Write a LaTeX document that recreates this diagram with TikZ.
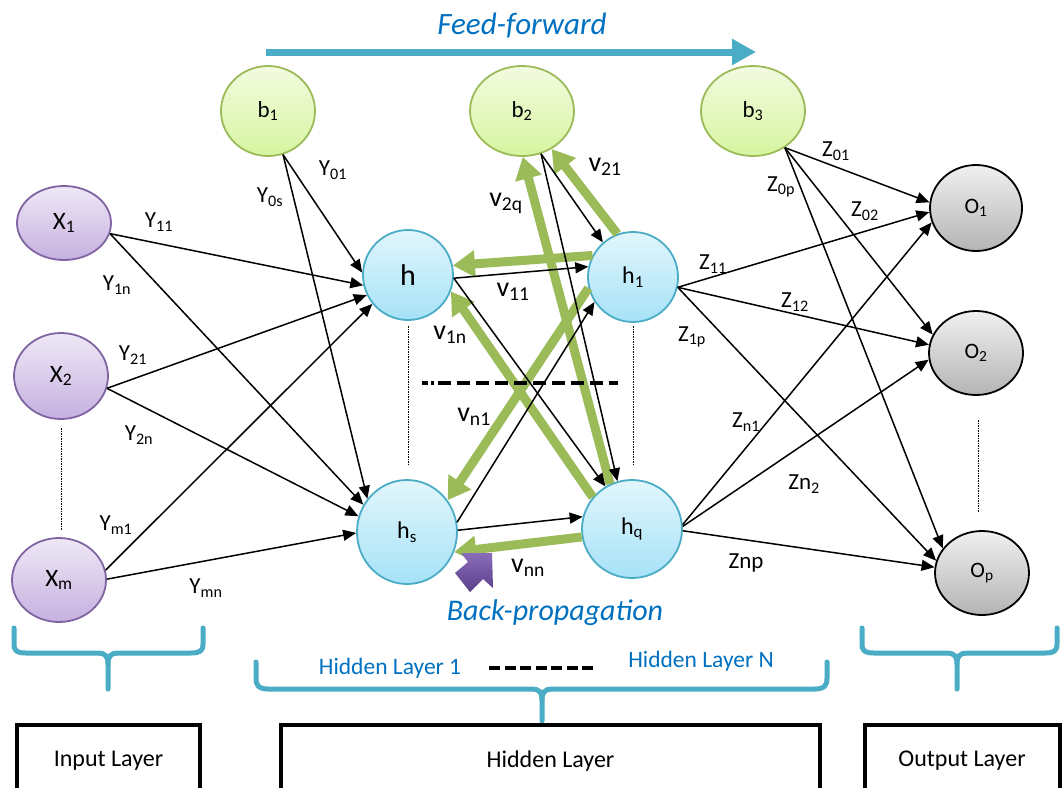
\documentclass[tikz,border=0pt]{standalone}
\usepackage{fontspec}
\setmainfont{Carlito}
\usetikzlibrary{shapes.geometric,arrows.meta}
\definecolor{inpLine}{HTML}{8064A2}
\definecolor{inpTop}{HTML}{EEE8F6}
\definecolor{inpBot}{HTML}{C6B0E0}
\definecolor{biasLine}{HTML}{9BBB59}
\definecolor{biasTop}{HTML}{F3FBE0}
\definecolor{biasBot}{HTML}{D6F5A0}
\definecolor{hidLine}{HTML}{4BACC6}
\definecolor{hidTop}{HTML}{E2F6FC}
\definecolor{hidBot}{HTML}{A6E2F7}
\definecolor{outTop}{HTML}{F0F0F0}
\definecolor{outBot}{HTML}{B4B4B4}
\definecolor{backGreen}{HTML}{9BBB59}
\definecolor{teal}{HTML}{4BACC6}
\definecolor{textBlue}{HTML}{0070C0}
\definecolor{purpleTop}{HTML}{8A6BB8}
\definecolor{purpleBot}{HTML}{5A3F8A}
\begin{document}
\begin{tikzpicture}[x=1pt,y=-1pt,
  neuron/.style={ellipse, inner sep=0pt, line width=1.8pt},
  inpnode/.style={neuron, draw=inpLine, top color=inpTop, bottom color=inpBot, font=\fontsize{25}{28}\selectfont},
  biasnode/.style={neuron, draw=biasLine, top color=biasTop, bottom color=biasBot, font=\fontsize{23}{26}\selectfont},
  hidnode/.style={neuron, draw=hidLine, top color=hidTop, bottom color=hidBot, font=\fontsize{24}{27}\selectfont},
  outnode/.style={neuron, draw=black, top color=outTop, bottom color=outBot, font=\fontsize{22}{25}\selectfont},
  fwd/.style={draw=black, line width=1.5pt, -{Triangle[length=13pt,width=11pt]}},
  bwd/.style={draw=backGreen, line width=9pt, -{Triangle[length=22pt,width=26pt]}},
  wlabel/.style={inner sep=0pt, font=\fontsize{23}{26}\selectfont},
  vlabel/.style={inner sep=0pt, font=\fontsize{28}{30}\selectfont},
  dotline/.style={draw=black, line width=0.8pt, dash pattern=on 1.5pt off 1pt},
  bracepath/.style={draw=teal, line width=5pt, line cap=round, line join=round},
  layerbox/.style={draw=black, line width=4pt, fill=white, inner sep=0pt, font=\fontsize{24}{27}\selectfont},
  bluetext/.style={inner sep=0pt, text=textBlue},
]
\useasboundingbox (0,0) rectangle (1062,787);
\clip (0,0) rectangle (1062,787);

% ---------- neurons ----------
\node[inpnode, minimum width=94pt, minimum height=74pt] (X1) at (64,223) {X\textsubscript{1}};
\node[inpnode, minimum width=94pt, minimum height=86pt] (X2) at (61,376) {X\textsubscript{2}};
\node[inpnode, minimum width=94pt, minimum height=84pt] (Xm) at (59,580) {X\textsubscript{m}};
\node[biasnode, minimum width=94pt, minimum height=90pt] (b1) at (268,111) {b\textsubscript{1}};
\node[biasnode, minimum width=104pt, minimum height=90pt] (b2) at (522,111) {b\textsubscript{2}};
\node[biasnode, minimum width=104pt, minimum height=90pt] (b3) at (753,111) {b\textsubscript{3}};
\node[hidnode, minimum width=90pt, minimum height=90pt, font=\fontsize{30}{32}\selectfont] (h) at (408,275) {h};
\node[hidnode, minimum width=90pt, minimum height=90pt] (h1) at (633,277) {h\textsubscript{1}};
\node[hidnode, minimum width=100pt, minimum height=104pt] (hs) at (407,532) {h\textsubscript{s}};
\node[hidnode, minimum width=100pt, minimum height=98pt] (hq) at (632,529) {h\textsubscript{q}};
\node[outnode, minimum width=92pt, minimum height=86pt] (O1) at (976,208) {O\textsubscript{1}};
\node[outnode, minimum width=94pt, minimum height=84pt] (O2) at (976,353) {O\textsubscript{2}};
\node[outnode, minimum width=94pt, minimum height=84pt] (Op) at (982,573) {O\textsubscript{p}};

% ---------- back-propagation (thick green) ----------
\draw[bwd] (h1.152) -- (h.12);
\draw[bwd] (hq.116) -- (b2.-89);
\draw[bwd] (h1.110) -- (b2.-52);
\draw[bwd] (hq.141) -- (h.-21);
\draw[bwd] (h1.194) -- (hs.38);
\draw[bwd] (hq.189) -- (hs.-23);

% ---------- input -> first hidden layer ----------
\draw[fwd] (b1.-71) -- (h.177);
\draw[fwd] (X1.-13) -- (h.193);
\draw[fwd] (X2.-15) -- (h.206);
\draw[fwd] (Xm.12) -- (h.219);
\draw[fwd] (b1.-71) -- (hs.140);
\draw[fwd] (X1.-13) -- (hs.148);
\draw[fwd] (X2.-15) -- (hs.162);
\draw[fwd] (Xm.1) -- (hs.181);

% ---------- hidden -> hidden ----------
\draw[fwd] (h.-4) -- (h1.167);
\draw[fwd] (h.-4) -- (hq.122);
\draw[fwd] (hs.11) -- (h1.213);
\draw[fwd] (hs.2) -- (hq.166);
\draw[fwd] (b2.-66) -- (h1.131);
\draw[fwd] (b2.-66) -- (hq.107);

% ---------- hidden -> output ----------
\draw[fwd] (b3.-49) -- (O1.173);
\draw[fwd] (b3.-49) -- (O2.157);
\draw[fwd] (b3.-49) -- (Op.148);
\draw[fwd] (h1.-13) -- (O1.185);
\draw[fwd] (h1.-13) -- (O2.170);
\draw[fwd] (h1.-13) -- (Op.165);
\draw[fwd] (hq.5) -- (O1.198);
\draw[fwd] (hq.3) -- (O2.188);
\draw[fwd] (hq.-2) -- (Op.173);

% ---------- ellipsis marks ----------
\coordinate (dotX1) at (61,428);  \coordinate (dotX2) at (61,530);
\coordinate (dotH1) at (408,326); \coordinate (dotH2) at (408,466);
\coordinate (dotQ1) at (633,326); \coordinate (dotQ2) at (633,466);
\coordinate (dotO1) at (978,420); \coordinate (dotO2) at (978,512);
\draw[dotline] (dotX1) -- (dotX2);
\draw[dotline] (dotH1) -- (dotH2);
\draw[dotline] (dotQ1) -- (dotQ2);
\draw[dotline] (dotO1) -- (dotO2);
\coordinate (midA) at (422,383); \coordinate (midB) at (618,383);
\draw[black, line width=3.5pt, dash pattern=on 6pt off 3pt on 3pt off 4pt on 13pt off 6pt on 13pt off 6pt on 13pt off 6pt on 13pt off 6pt on 13pt off 6pt on 13pt off 6pt on 13pt off 6pt on 13pt off 6pt on 13pt off 6pt on 13pt off 6pt] (midA) -- (midB);

% ---------- weight labels ----------
\node[wlabel] (lY01) at (333,170) {Y\textsubscript{01}};
\node[wlabel] (lY0s) at (270,197) {Y\textsubscript{0s}};
\node[wlabel] (lY11) at (159,222) {Y\textsubscript{11}};
\node[wlabel] (lY1n) at (117,285) {Y\textsubscript{1n}};
\node[wlabel] (lY21) at (133,355) {Y\textsubscript{21}};
\node[wlabel] (lY2n) at (139,435) {Y\textsubscript{2n}};
\node[wlabel] (lYm1) at (116,525) {Y\textsubscript{m1}};
\node[wlabel] (lYmn) at (206,588) {Y\textsubscript{mn}};
\node[vlabel] (lv2q) at (506,203) {v\textsubscript{2q}};
\node[vlabel] (lv21) at (605,167) {v\textsubscript{21}};
\node[vlabel] (lv11) at (513,292) {v\textsubscript{11}};
\node[vlabel] (lv1n) at (450,335) {v\textsubscript{1n}};
\node[vlabel] (lvn1) at (474,417) {v\textsubscript{n1}};
\node[vlabel] (lvnn) at (528,568) {v\textsubscript{nn}};
\node[wlabel] (lZ01) at (836,151) {Z\textsubscript{01}};
\node[wlabel] (lZ0p) at (781,187) {Z\textsubscript{0p}};
\node[wlabel] (lZ02) at (865,211) {Z\textsubscript{02}};
\node[wlabel] (lZ11) at (713,264) {Z\textsubscript{11}};
\node[wlabel] (lZ12) at (795,302) {Z\textsubscript{12}};
\node[wlabel] (lZ1p) at (692,337) {Z\textsubscript{1p}};
\node[wlabel] (lZn1) at (746,422) {Z\textsubscript{n1}};
\node[wlabel] (lZn2) at (804,484) {Zn\textsubscript{2}};
\node[wlabel] (lZnp) at (746,563) {Znp};

% ---------- direction captions ----------
\coordinate (ffStart) at (266,52);
\coordinate (ffEnd) at (756,52);
\draw[teal, line width=7pt, -{Triangle[length=24pt,width=25pt]}] (ffStart) -- (ffEnd);
\node[bluetext, font=\fontsize{31}{34}\selectfont\itshape] (ffText) at (522,26) {Feed-forward};
\node[bluetext, font=\fontsize{30}{34}\selectfont\itshape] (bpText) at (555,613) {Back-propagation};

% purple block arrow pointing up-right
\shade[top color=purpleTop, bottom color=purpleBot]
  (492,553) -- (493,588) -- (483,579) -- (470,592) -- (455,573) -- (468,562) -- (461,553) -- cycle;

% ---------- layer braces ----------
\draw[bracepath] (14,628) -- (14,644) .. controls (14,651) and (17,653) .. (26,653)
  -- (98,653) .. controls (105,653) and (108,656) .. (108,664) -- (108,689);
\draw[bracepath] (203,628) -- (203,644) .. controls (203,651) and (200,653) .. (191,653)
  -- (118,653) .. controls (111,653) and (108,656) .. (108,664);
\draw[bracepath] (256,662) -- (256,678) .. controls (256,686) and (259,689) .. (268,689)
  -- (532,689) .. controls (539,689) and (542,692) .. (542,700) -- (542,721);
\draw[bracepath] (827,662) -- (827,678) .. controls (827,686) and (824,689) .. (815,689)
  -- (552,689) .. controls (545,689) and (542,692) .. (542,700);
\draw[bracepath] (862,628) -- (862,644) .. controls (862,651) and (865,653) .. (874,653)
  -- (947,653) .. controls (954,653) and (957,656) .. (957,664) -- (957,689);
\draw[bracepath] (1057,628) -- (1057,644) .. controls (1057,651) and (1054,653) .. (1045,653)
  -- (967,653) .. controls (960,653) and (957,656) .. (957,664);

\node[bluetext, font=\fontsize{23.5}{26}\selectfont] (hl1) at (390,668) {Hidden Layer 1};
\node[bluetext, font=\fontsize{23.5}{26}\selectfont] (hlN) at (701,661) {Hidden Layer N};
\coordinate (hdA) at (489,668); \coordinate (hdB) at (597,668);
\draw[black, line width=4pt, dash pattern=on 11pt off 4.5pt] (hdA) -- (hdB);

% ---------- layer boxes ----------
\node[layerbox, minimum width=183pt, minimum height=72pt] (inBox) at (108.5,761) {Input Layer};
\node[layerbox, minimum width=539pt, minimum height=72pt] (hidBox) at (550.5,761) {Hidden Layer};
\node[layerbox, minimum width=195pt, minimum height=72pt] (outBox) at (962,761) {Output Layer};
\end{tikzpicture}
\end{document}
